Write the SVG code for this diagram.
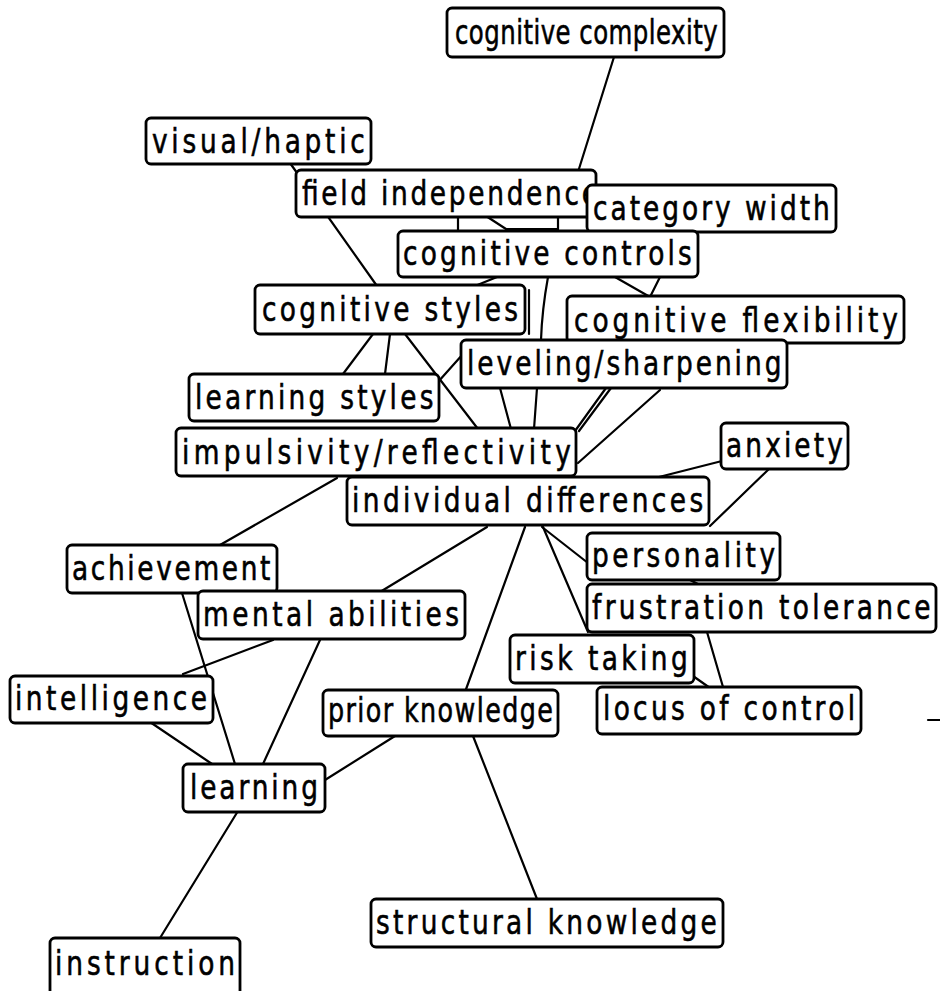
<svg xmlns="http://www.w3.org/2000/svg" width="940" height="991" viewBox="0 0 940 991">
  <style>
    .bg { fill: #ffffff; }
    .edge { stroke: #000; stroke-width: 2.2; fill: none; stroke-linecap: round; }
    .box { fill: #fff; stroke: #000; stroke-width: 2.8; }
    .lbl { font-family: "DejaVu Sans", sans-serif; font-size: 33px; fill: #000; stroke: #000; stroke-width: 0.6; }
  </style>
  <rect class="bg" x="0" y="0" width="940" height="991"/>

  <g id="connectors">
    <line class="edge" x1="614" y1="57" x2="578" y2="172"/>
    <line class="edge" x1="290" y1="163" x2="377" y2="286"/>
    <line class="edge" x1="458" y1="216" x2="458" y2="231"/>
    <line class="edge" x1="486" y1="216" x2="506" y2="229"/>
    <line class="edge" x1="506" y1="229" x2="557" y2="229"/>
    <line class="edge" x1="558" y1="216" x2="558" y2="231"/>
    <line class="edge" x1="615" y1="277" x2="650" y2="297"/>
    <line class="edge" x1="660" y1="277" x2="650" y2="297"/>
    <line class="edge" x1="497" y1="277" x2="475" y2="286"/>
    <path class="edge" d="M548,277 Q542,310 541,340"/>
    <line class="edge" x1="529" y1="290" x2="529" y2="334"/>
    <line class="edge" x1="373" y1="334" x2="343" y2="374"/>
    <line class="edge" x1="390" y1="334" x2="385" y2="374"/>
    <line class="edge" x1="405" y1="334" x2="478" y2="429"/>
    <line class="edge" x1="463" y1="354" x2="438" y2="382"/>
    <line class="edge" x1="500" y1="388" x2="511" y2="429"/>
    <line class="edge" x1="537" y1="388" x2="534" y2="429"/>
    <line class="edge" x1="606" y1="388" x2="575" y2="431"/>
    <line class="edge" x1="611" y1="388" x2="579" y2="431"/>
    <line class="edge" x1="660" y1="390" x2="578" y2="463"/>
    <line class="edge" x1="722" y1="461" x2="655" y2="478"/>
    <line class="edge" x1="770" y1="468" x2="710" y2="526"/>
    <line class="edge" x1="542" y1="527" x2="588" y2="563"/>
    <line class="edge" x1="543" y1="527" x2="588" y2="632"/>
    <line class="edge" x1="525" y1="527" x2="465" y2="692"/>
    <line class="edge" x1="487" y1="527" x2="380" y2="592"/>
    <line class="edge" x1="337" y1="478" x2="220" y2="545"/>
    <line class="edge" x1="707" y1="632" x2="723" y2="687"/>
    <line class="edge" x1="693" y1="676" x2="710" y2="688"/>
    <line class="edge" x1="182" y1="593" x2="235" y2="764"/>
    <line class="edge" x1="320" y1="640" x2="263" y2="764"/>
    <line class="edge" x1="273" y1="640" x2="183" y2="674"/>
    <line class="edge" x1="150" y1="722" x2="212" y2="764"/>
    <line class="edge" x1="325" y1="780" x2="395" y2="736"/>
    <line class="edge" x1="238" y1="811" x2="160" y2="938"/>
    <line class="edge" x1="473" y1="736" x2="537" y2="899"/>
    <line class="edge" x1="690" y1="580" x2="700" y2="585"/>
    <line class="edge" x1="928" y1="720" x2="940" y2="720"/>
  </g>

  <g id="cognitive-complexity">
    <rect class="box" x="447" y="8" width="277" height="49" rx="5"/>
    <text class="lbl" transform="translate(455 44) scale(0.74 1)" textLength="355" lengthAdjust="spacing">cognitive complexity</text>
  </g>
  <g id="visual-haptic">
    <rect class="box" x="146" y="118" width="225" height="46" rx="5"/>
    <text class="lbl" transform="translate(152 153) scale(0.8 1)" textLength="266" lengthAdjust="spacing">visual/haptic</text>
  </g>
  <g id="field-independence">
    <rect class="box" x="296" y="170" width="300" height="47" rx="5"/>
    <text class="lbl" transform="translate(302 205) scale(0.8 1)" textLength="370" lengthAdjust="spacing">field independence</text>
  </g>
  <g id="category-width">
    <rect class="box" x="587" y="185" width="249" height="47" rx="5"/>
    <text class="lbl" transform="translate(593 220) scale(0.8 1)" textLength="296" lengthAdjust="spacing">category width</text>
  </g>
  <g id="cognitive-controls">
    <rect class="box" x="398" y="231" width="300" height="46" rx="5"/>
    <text class="lbl" transform="translate(403 265) scale(0.8 1)" textLength="361" lengthAdjust="spacing">cognitive controls</text>
  </g>
  <g id="cognitive-styles">
    <rect class="box" x="255" y="285" width="270" height="49" rx="5"/>
    <text class="lbl" transform="translate(262 321) scale(0.8 1)" textLength="320" lengthAdjust="spacing">cognitive styles</text>
  </g>
  <g id="cognitive-flexibility">
    <rect class="box" x="567" y="296" width="337" height="47" rx="5"/>
    <text class="lbl" transform="translate(574 332) scale(0.8 1)" textLength="405" lengthAdjust="spacing">cognitive flexibility</text>
  </g>
  <g id="leveling-sharpening">
    <rect class="box" x="461" y="340" width="326" height="48" rx="5"/>
    <text class="lbl" transform="translate(467 375) scale(0.8 1)" textLength="393" lengthAdjust="spacing">leveling/sharpening</text>
  </g>
  <g id="learning-styles">
    <rect class="box" x="189" y="374" width="250" height="47" rx="5"/>
    <text class="lbl" transform="translate(195 409) scale(0.8 1)" textLength="298" lengthAdjust="spacing">learning styles</text>
  </g>
  <g id="impulsivity-reflectivity">
    <rect class="box" x="176" y="428" width="400" height="48" rx="5"/>
    <text class="lbl" transform="translate(182 464) scale(0.8 1)" textLength="486" lengthAdjust="spacing">impulsivity/reflectivity</text>
  </g>
  <g id="anxiety">
    <rect class="box" x="721" y="423" width="127" height="46" rx="5"/>
    <text class="lbl" transform="translate(726 457) scale(0.8 1)" textLength="146" lengthAdjust="spacing">anxiety</text>
  </g>
  <g id="individual-differences">
    <rect class="box" x="347" y="477" width="362" height="48" rx="5"/>
    <text class="lbl" transform="translate(352 512) scale(0.8 1)" textLength="439" lengthAdjust="spacing">individual differences</text>
  </g>
  <g id="personality">
    <rect class="box" x="587" y="533" width="193" height="47" rx="5"/>
    <text class="lbl" transform="translate(592 567) scale(0.8 1)" textLength="229" lengthAdjust="spacing">personality</text>
  </g>
  <g id="achievement">
    <rect class="box" x="67" y="545" width="210" height="48" rx="5"/>
    <text class="lbl" transform="translate(72 580) scale(0.8 1)" textLength="248" lengthAdjust="spacing">achievement</text>
  </g>
  <g id="frustration-tolerance">
    <rect class="box" x="587" y="584" width="349" height="48" rx="5"/>
    <text class="lbl" transform="translate(592 619) scale(0.8 1)" textLength="423" lengthAdjust="spacing">frustration tolerance</text>
  </g>
  <g id="mental-abilities">
    <rect class="box" x="198" y="591" width="267" height="48" rx="5"/>
    <text class="lbl" transform="translate(203 626) scale(0.8 1)" textLength="320" lengthAdjust="spacing">mental abilities</text>
  </g>
  <g id="risk-taking">
    <rect class="box" x="510" y="635" width="184" height="48" rx="5"/>
    <text class="lbl" transform="translate(515 670) scale(0.8 1)" textLength="216" lengthAdjust="spacing">risk taking</text>
  </g>
  <g id="intelligence">
    <rect class="box" x="10" y="676" width="203" height="47" rx="5"/>
    <text class="lbl" transform="translate(15 710) scale(0.8 1)" textLength="240" lengthAdjust="spacing">intelligence</text>
  </g>
  <g id="prior-knowledge">
    <rect class="box" x="323" y="690" width="235" height="46" rx="5"/>
    <text class="lbl" transform="translate(328 722) scale(0.77 1)" textLength="292" lengthAdjust="spacing">prior knowledge</text>
  </g>
  <g id="locus-of-control">
    <rect class="box" x="597" y="687" width="264" height="47" rx="5"/>
    <text class="lbl" transform="translate(603 720) scale(0.8 1)" textLength="315" lengthAdjust="spacing">locus of control</text>
  </g>
  <g id="learning">
    <rect class="box" x="183" y="764" width="142" height="48" rx="5"/>
    <text class="lbl" transform="translate(190 799) scale(0.8 1)" textLength="160" lengthAdjust="spacing">learning</text>
  </g>
  <g id="structural-knowledge">
    <rect class="box" x="371" y="899" width="352" height="48" rx="5"/>
    <text class="lbl" transform="translate(376 934) scale(0.8 1)" textLength="426" lengthAdjust="spacing">structural knowledge</text>
  </g>
  <g id="instruction">
    <rect class="box" x="50" y="938" width="190" height="60" rx="5"/>
    <text class="lbl" transform="translate(55 975) scale(0.8 1)" textLength="225" lengthAdjust="spacing">instruction</text>
  </g>
</svg>
